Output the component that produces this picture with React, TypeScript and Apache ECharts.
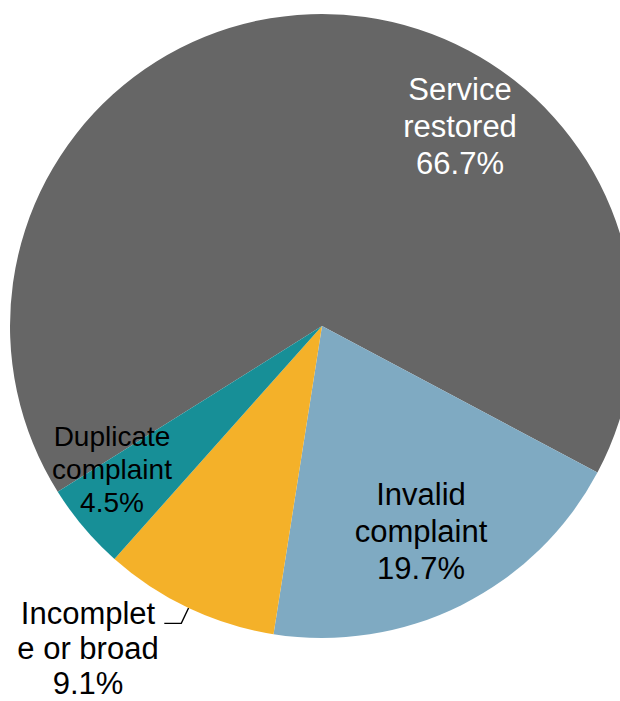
import React, { useEffect, useRef } from "react";
import * as echarts from "echarts";

const categories = ["Service\nrestored", "Invalid\ncomplaint", "Incomplet\ne or broad", "Duplicate\ncomplaint"];
const percentages = [66.7, 19.7, 9.1, 4.5];
const sliceColors = ["#666666", "#7FAAC2", "#F4B129", "#178F97"];

// label placement (layout only)
const labelPlacement = [
  { x: 460, y: 126, size: 31, lh: 37, color: "#ffffff", outside: false },
  { x: 421, y: 531, size: 31, lh: 37, color: "#000000", outside: false },
  { x: 88, y: 648, size: 31, lh: 35, color: "#000000", outside: true },
  { x: 112, y: 469, size: 28, lh: 33, color: "#000000", outside: false },
];

export default function App() {
  const ref = useRef<HTMLDivElement>(null);
  useEffect(() => {
    if (!ref.current) return;
    const chart = echarts.init(ref.current, null, { renderer: "svg" });
    const data = categories.map((name, i) => {
      const p = labelPlacement[i];
      return {
        name,
        value: percentages[i],
        itemStyle: { color: sliceColors[i] },
        label: {
          show: true,
          position: p.outside ? "outside" : "inside",
          color: p.color,
          fontSize: p.size,
          lineHeight: p.lh,
          align: "center",
          fontFamily: "'Liberation Sans', Arial, sans-serif",
          formatter: (prm: any) => `${prm.name}\n${prm.value.toFixed(1)}%`,
        },
        labelLine: {
          show: p.outside,
          length: 17,
          length2: 17,
          smooth: false,
          lineStyle: { color: "#000000", width: 1.4 },
        },
      };
    });
    chart.setOption({
      animation: false,
      backgroundColor: "#ffffff",
      series: [
        {
          type: "pie",
          center: [322, 326],
          radius: 312,
          startAngle: 212.1,
          clockwise: true,
          avoidLabelOverlap: false,
          silent: true,
          itemStyle: { borderWidth: 0 },
          emphasis: { disabled: true },
          data,
          labelLayout: (params: any) => {
            const p = labelPlacement[params.dataIndex];
            const out: any = {
              x: p.x,
              y: p.y,
              align: "center",
              verticalAlign: "middle",
            };
            if (p.outside && params.labelLinePoints) {
              out.labelLinePoints = params.labelLinePoints;
            }
            return out;
          },
        },
      ],
    });
    return () => chart.dispose();
  }, []);
  return (
    <div
      ref={ref}
      style={{ position: "fixed", left: 0, top: 0, width: 620, height: 701 }}
    />
  );
}
